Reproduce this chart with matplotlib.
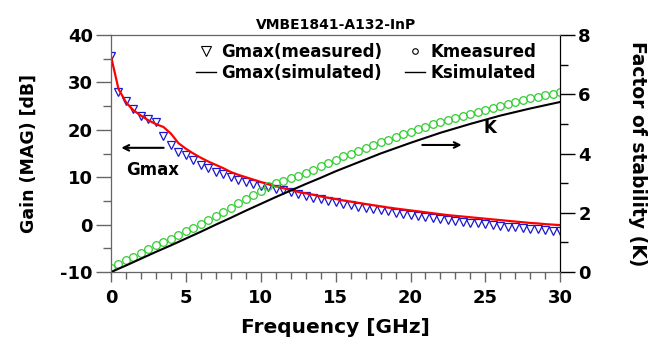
import numpy as np
import matplotlib.pyplot as plt
from matplotlib.lines import Line2D
from matplotlib.ticker import MultipleLocator

plt.rcParams['font.family'] = ['DejaVu Sans']
plt.rcParams['font.weight'] = 'bold'
plt.rcParams['axes.unicode_minus'] = False

# frequency grid of the measurement (GHz)
freq_meas = np.arange(0, 30.01, 0.5)

gmax_meas = [35.5, 28.0, 26.0, 24.3, 23.0, 22.3, 21.7, 18.7, 16.8, 15.4,
             14.6, 13.6, 12.6, 11.9, 11.2, 10.6, 10.0, 9.5, 9.0, 8.6,
             8.2, 7.9, 7.6, 7.3, 6.9, 6.5, 6.1, 5.7, 5.3, 5.0,
             4.7, 4.4, 4.1, 3.8, 3.5, 3.3, 3.0, 2.8, 2.5, 2.3,
             2.1, 1.9, 1.6, 1.4, 1.2, 1.0, 0.8, 0.6, 0.4, 0.3,
             0.1, -0.1, -0.2, -0.4, -0.6, -0.7, -0.9, -1.0, -1.1, -1.3, -1.3]

gmax_sim = [35.5, 28.6, 25.8, 24.1, 23.0, 22.0, 21.2, 20.6, 19.2, 17.2,
            16.0, 15.0, 14.1, 13.3, 12.6, 11.9, 11.1, 10.5, 10.0, 9.5,
            9.0, 8.5, 8.1, 7.7, 7.3, 6.9, 6.6, 6.3, 5.95, 5.65,
            5.4, 5.1, 4.85, 4.6, 4.35, 4.1, 3.85, 3.6, 3.4, 3.2,
            3.0, 2.8, 2.6, 2.4, 2.2, 2.0, 1.85, 1.7, 1.55, 1.4,
            1.25, 1.1, 0.95, 0.8, 0.65, 0.5, 0.35, 0.25, 0.1, 0.0, -0.1]

k_meas = [0.15, 0.28, 0.4, 0.52, 0.65, 0.77, 0.9, 1.0, 1.12, 1.24,
          1.37, 1.5, 1.63, 1.76, 1.9, 2.03, 2.17, 2.32, 2.46, 2.6,
          2.75, 2.9, 3.0, 3.08, 3.16, 3.25, 3.35, 3.46, 3.57, 3.68,
          3.79, 3.9, 4.0, 4.1, 4.2, 4.29, 4.38, 4.47, 4.56, 4.65,
          4.74, 4.82, 4.9, 4.98, 5.06, 5.13, 5.2, 5.27, 5.34, 5.41,
          5.48, 5.55, 5.61, 5.68, 5.74, 5.8, 5.86, 5.92, 5.97, 6.02, 6.07]

freq_sim = np.arange(0, 31, 1)
k_sim = [0.0, 0.22, 0.45, 0.68, 0.9, 1.13, 1.36, 1.6, 1.83, 2.07,
         2.3, 2.53, 2.75, 2.97, 3.18, 3.4, 3.6, 3.8, 4.0, 4.18,
         4.36, 4.53, 4.7, 4.85, 5.0, 5.14, 5.28, 5.4, 5.52, 5.63, 5.74]

fig = plt.figure(figsize=(6.53, 3.57), dpi=100)
ax = fig.add_axes([0.170, 0.238, 0.688, 0.664])
ax2 = ax.twinx()

ax.plot(freq_meas, gmax_meas, linestyle='none', marker='v', markersize=6,
        markerfacecolor='none', markeredgecolor='#1a1acc', markeredgewidth=0.9)
ax.plot(freq_meas, gmax_sim, color='red', lw=1.6)
ax2.plot(freq_meas, k_meas, linestyle='none', marker='o', markersize=5.5,
         markerfacecolor='none', markeredgecolor='#33cc33', markeredgewidth=0.9)
ax2.plot(freq_sim, k_sim, color='black', lw=1.5)

ax.set_xlim(0, 30)
ax.set_ylim(-10, 40)
ax2.set_ylim(0, 8)
ax.xaxis.set_major_locator(MultipleLocator(5))
ax.xaxis.set_minor_locator(MultipleLocator(1))
ax.yaxis.set_major_locator(MultipleLocator(10))
ax.yaxis.set_minor_locator(MultipleLocator(5))
ax2.yaxis.set_major_locator(MultipleLocator(2))
ax2.yaxis.set_minor_locator(MultipleLocator(1))

for a in (ax, ax2):
    a.tick_params(which='major', direction='out', length=11, width=1, labelsize=13, pad=2)
    a.tick_params(which='minor', direction='out', length=6, width=1)
for s in ('left', 'top', 'bottom'):
    ax2.spines[s].set_color('#666666')
ax2.spines['right'].set_color('black')
ax.tick_params(axis='both', which='both', color='#666666')
ax.tick_params(axis='x', which='major', length=7, pad=5)
ax.tick_params(axis='x', which='minor', length=5)
ax2.tick_params(axis='y', which='both', color='black')

ax.set_xlabel('Frequency [GHz]', fontsize=14.5, fontweight='bold', labelpad=8)
ax.set_ylabel('Gain (MAG) [dB]', fontsize=12.5, fontweight='bold', labelpad=16)
ax2.set_ylabel('Factor of stability (K)', fontsize=13.5, fontweight='bold',
               rotation=-90, labelpad=40)
ax.set_title('VMBE1841-A132-InP', fontsize=10, fontweight='bold', pad=4)

ax.annotate('', xy=(0.5, 16.2), xytext=(3.7, 16.2),
            arrowprops=dict(arrowstyle='->', color='black', lw=1.5))
ax.text(1.0, 11.5, 'Gmax', fontsize=12, fontweight='bold', va='center')
ax.annotate('', xy=(23.6, 16.8), xytext=(20.6, 16.8),
            arrowprops=dict(arrowstyle='->', color='black', lw=1.5))
ax.text(24.9, 20.4, 'K', fontsize=12, fontweight='bold', va='center')

handles = [
    Line2D([], [], linestyle='none', marker='v', markersize=7,
           markerfacecolor='none', markeredgecolor='black', markeredgewidth=0.8),
    Line2D([], [], color='black', lw=1),
    Line2D([], [], linestyle='none', marker='o', markersize=4,
           markerfacecolor='none', markeredgecolor='black', markeredgewidth=0.8),
    Line2D([], [], color='black', lw=1),
]
labels = ['Gmax(measured)', 'Gmax(simulated)', 'Kmeasured', 'Ksimulated']
ax2.legend(handles, labels, ncol=2, loc='upper right', bbox_to_anchor=(0.965, 1.0),
           frameon=False, handlelength=1.2, handletextpad=0.3,
           labelspacing=0.15, columnspacing=1.4, borderaxespad=0.1,
           prop={'weight': 'bold', 'size': 12})

fig.savefig('out.png', dpi=100)
